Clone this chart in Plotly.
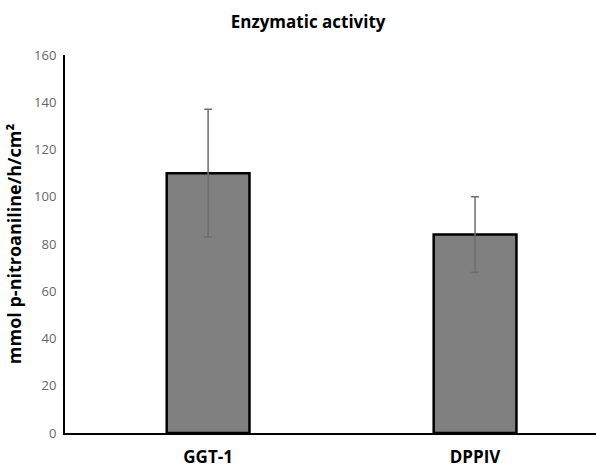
import plotly.graph_objects as go

# Enzymatic activity data (mean ± error)
categories = ["GGT-1", "DPPIV"]
activity = [110, 84]
error = [27, 16]
y_ticks = [0, 20, 40, 60, 80, 100, 120, 140, 160]

fig = go.Figure()
fig.add_trace(go.Bar(
    x=[0, 1],
    y=activity,
    width=0.31,
    marker=dict(color="#808080", line=dict(color="#000000", width=2.5)),
    error_y=dict(type="data", array=error, visible=True,
                 color="#6e6e6e", thickness=1.5, width=4),
    showlegend=False,
))

font_family = "Open Sans, Lato, sans-serif"

fig.update_layout(
    width=596, height=467,
    paper_bgcolor="white", plot_bgcolor="white",
    margin=dict(l=65, r=0, t=55, b=34),
    title=dict(text="<b>Enzymatic activity</b>", x=0.517, xanchor="center",
               y=0.953, yanchor="middle",
               font=dict(family=font_family, size=17, color="#000000")),
    xaxis=dict(
        range=[-0.536, 1.453],
        tickmode="array", tickvals=[0, 1],
        ticktext=[f"<b>{c}</b>" for c in categories],
        tickfont=dict(family=font_family, size=17, color="#000000"),
        ticklabelstandoff=8,
        automargin=False,
        showline=True, linecolor="#000000", linewidth=2,
        showgrid=False, zeroline=False, ticks="", ticklen=0,
    ),
    yaxis=dict(
        range=[0, 160],
        tickmode="array", tickvals=y_ticks,
        tickfont=dict(family=font_family, size=13, color="#666666"),
        ticklabelstandoff=4,
        automargin=False,
        showline=True, linecolor="#000000", linewidth=2,
        showgrid=False, zeroline=False, ticks="", ticklen=0,
        title=dict(text="<b>mmol p-nitroaniline/h/cm²</b>",
                   font=dict(family=font_family, size=18, color="#000000"),
                   standoff=8),
    ),
)

fig.write_html("out.html")
